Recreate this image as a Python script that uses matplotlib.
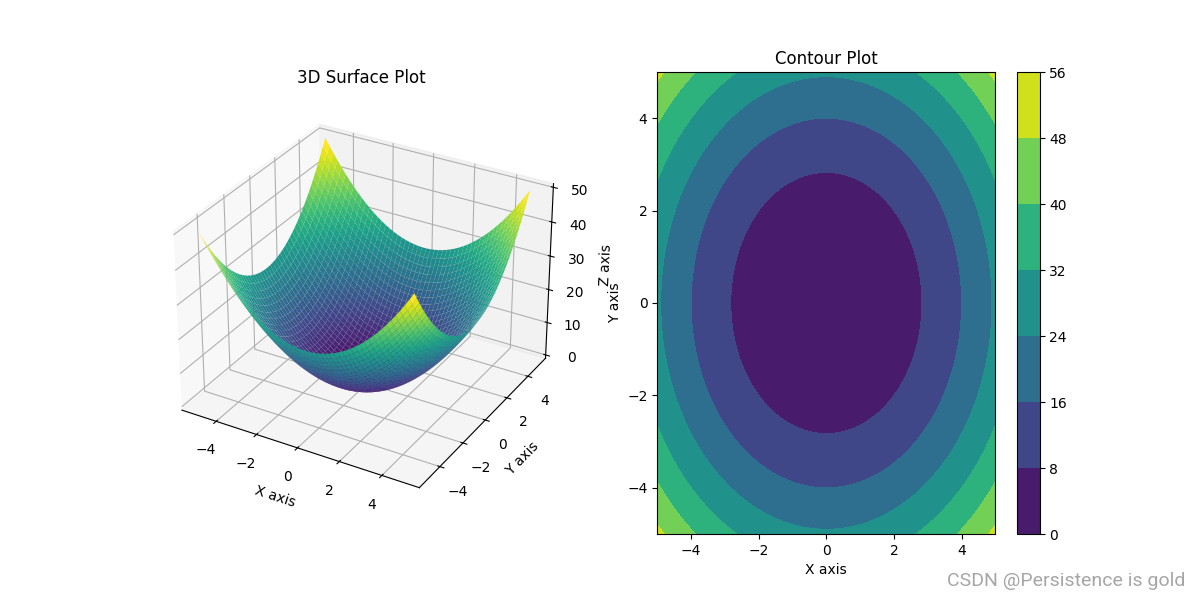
#!/usr/bin/env python3
import numpy as np
import matplotlib
matplotlib.use('Agg')
import matplotlib.pyplot as plt

# grid positions along X and Y
grid_pos = [-5.0, -4.796, -4.592, -4.388, -4.184, -3.98, -3.776, -3.571, -3.367, -3.163,
            -2.959, -2.755, -2.551, -2.347, -2.143, -1.939, -1.735, -1.531, -1.327, -1.122,
            -0.918, -0.714, -0.51, -0.306, -0.102, 0.102, 0.306, 0.51, 0.714, 0.918,
            1.122, 1.327, 1.531, 1.735, 1.939, 2.143, 2.347, 2.551, 2.755, 2.959,
            3.163, 3.367, 3.571, 3.776, 3.98, 4.184, 4.388, 4.592, 4.796, 5.0]

# height of the bowl along one axis at those positions
bowl_profile = [25.0, 23.0, 21.09, 19.25, 17.51, 15.84, 14.26, 12.75, 11.34, 10.0,
                8.76, 7.59, 6.51, 5.51, 4.59, 3.76, 3.01, 2.34, 1.76, 1.26,
                0.84, 0.51, 0.26, 0.09, 0.01, 0.01, 0.09, 0.26, 0.51, 0.84,
                1.26, 1.76, 2.34, 3.01, 3.76, 4.59, 5.51, 6.51, 7.59, 8.76,
                10.0, 11.34, 12.75, 14.26, 15.84, 17.51, 19.25, 21.09, 23.0, 25.0]

X, Y = np.meshgrid(grid_pos, grid_pos)
Z = np.add.outer(bowl_profile, bowl_profile)

fig = plt.figure(figsize=(12, 6), dpi=100)

# 3D SURFACE
ax1 = fig.add_subplot(121, projection='3d')
ax1.plot_surface(X, Y, Z, cmap='viridis', rstride=1, cstride=1)
ax1.set_xlabel('X axis')
ax1.set_ylabel('Y axis')
ax1.set_zlabel('Z axis')
ax1.set_title('3D Surface Plot')

# CONTOUR
ax2 = fig.add_subplot(122)
cs = ax2.contourf(X, Y, Z, cmap='viridis')
fig.colorbar(cs, ax=ax2)
ax2.set_xlabel('X axis')
ax2.set_ylabel('Y axis')
ax2.set_title('Contour Plot')

fig.text(0.988, 0.031, 'CSDN @Persistence is gold', ha='right', va='center',
         fontsize=14, color='#a6a6a6', family='Roboto')

plt.savefig('out.png')
